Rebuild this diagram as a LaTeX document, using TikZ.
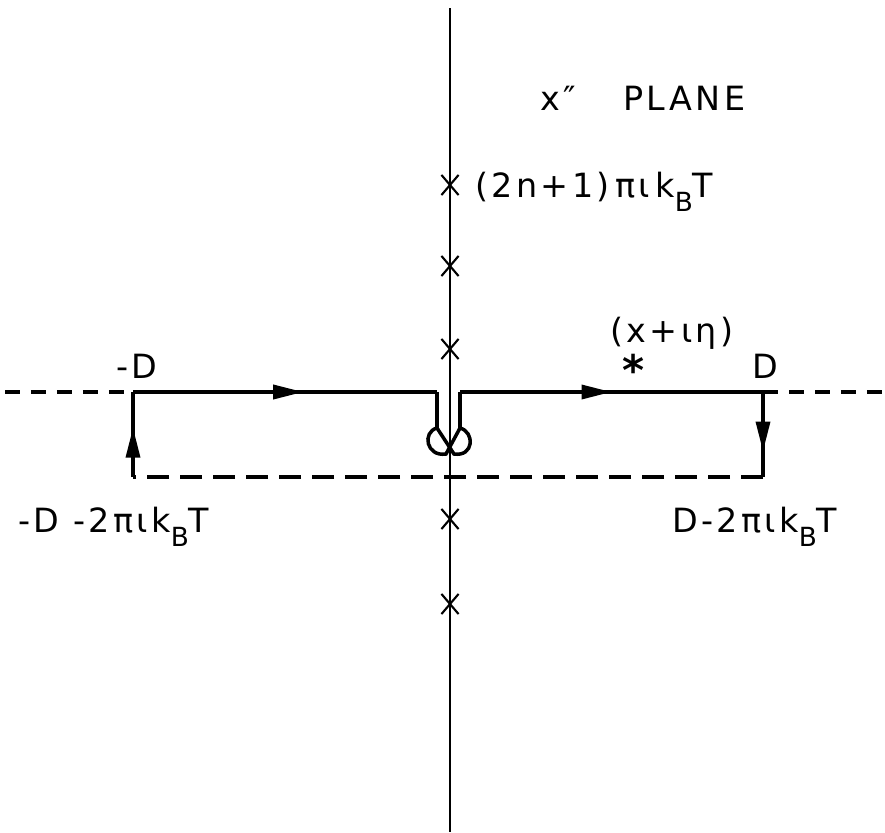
\documentclass[tikz,border=0pt]{standalone}
\usepackage{fontspec}
\setmainfont{DejaVu Sans}[LetterSpace=10]
\usetikzlibrary{arrows.meta,decorations.markings,shapes.misc}

\newcommand{\kBT}{k\raisebox{-0.8ex}{\fontsize{15}{15}\selectfont B}T}

\tikzset{
  axisline/.style={line width=1.4pt},
  realaxis/.style={line width=1.8pt, dash pattern=on 0.3cm off 0.22cm},
  contour/.style={line width=2pt},
  shifted/.style={line width=2pt, dash pattern=on 0.44cm off 0.22cm},
  flow/.style={contour, postaction={decorate},
    decoration={markings, mark=at position #1 with {\arrow{Triangle[length=0.6cm, width=0.28cm]}}}},
  pole/.style={draw, cross out, line width=1.2pt, minimum width=0.3cm, minimum height=0.36cm, inner sep=0pt},
  lbl/.style={font=\fontsize{19}{21}\selectfont, inner sep=0pt, anchor=base west}
}

\begin{document}
\begin{tikzpicture}[x=0.02cm, y=-0.02cm]
    \useasboundingbox (0,0) rectangle (885,832);

    % Axes
    \coordinate (top) at (450,8);
    \coordinate (bot) at (450,832);
    \coordinate (west) at (5,392);
    \coordinate (east) at (885,392);
    \draw[axisline] (top) -- (bot);

    % Contour corners
    \coordinate (nw) at (133,392);
    \coordinate (ne) at (763,392);
    \coordinate (se) at (763,477);
    \coordinate (sw) at (133,477);
    \coordinate (ml) at (437,392);
    \coordinate (mr) at (460,392);
    \coordinate (kl) at (437,428);
    \coordinate (kr) at (460,428);

    \draw[realaxis] (west) -- (nw);
    \draw[realaxis] (ne) -- (east);

    % Contour
    \draw[flow=0.56] (nw) -- (ml);
    \draw[contour] (ml) -- (kl);
    \draw[contour] (mr) -- (kr);
    \draw[flow=0.5] (mr) -- (ne);
    \draw[flow=0.7] (ne) -- (se);
    \draw[shifted] (se) -- (sw);
    \draw[flow=0.58] (sw) -- (nw);

    % Keyhole round the pole at the origin
    \draw[contour] (kl) .. controls (422,432) and (426,457) .. (446,454) -- (kr);
    \draw[contour] (kr) .. controls (475,432) and (474,457) .. (454,454) -- (kl);

    % Poles
    \foreach \y [count=\i] in {185,266,349,519,604}
        \node[pole] (p\i) at (450,\y) {};

    % Labels
    \node[lbl] (plane) at (540,110) {x″\hspace{0.95cm}PLANE};
    \node[lbl] (polelabel) at (475,197) {(2n+1)\,πι\,\kBT};
    \node[lbl] (shiftlabel) at (610,342) {(x+ιη)};
    \node[font=\fontsize{24}{24}\selectfont\bfseries, inner sep=0pt] (star) at (634,370) {*};
    \node[lbl] (dright) at (752,378) {D};
    \node[lbl] (dleft) at (116,378) {-D};
    \node[lbl] (swlabel) at (18,532) {-D -2πι\kBT};
    \node[lbl] (selabel) at (672,532) {D-2πι\kBT};
\end{tikzpicture}
\end{document}
